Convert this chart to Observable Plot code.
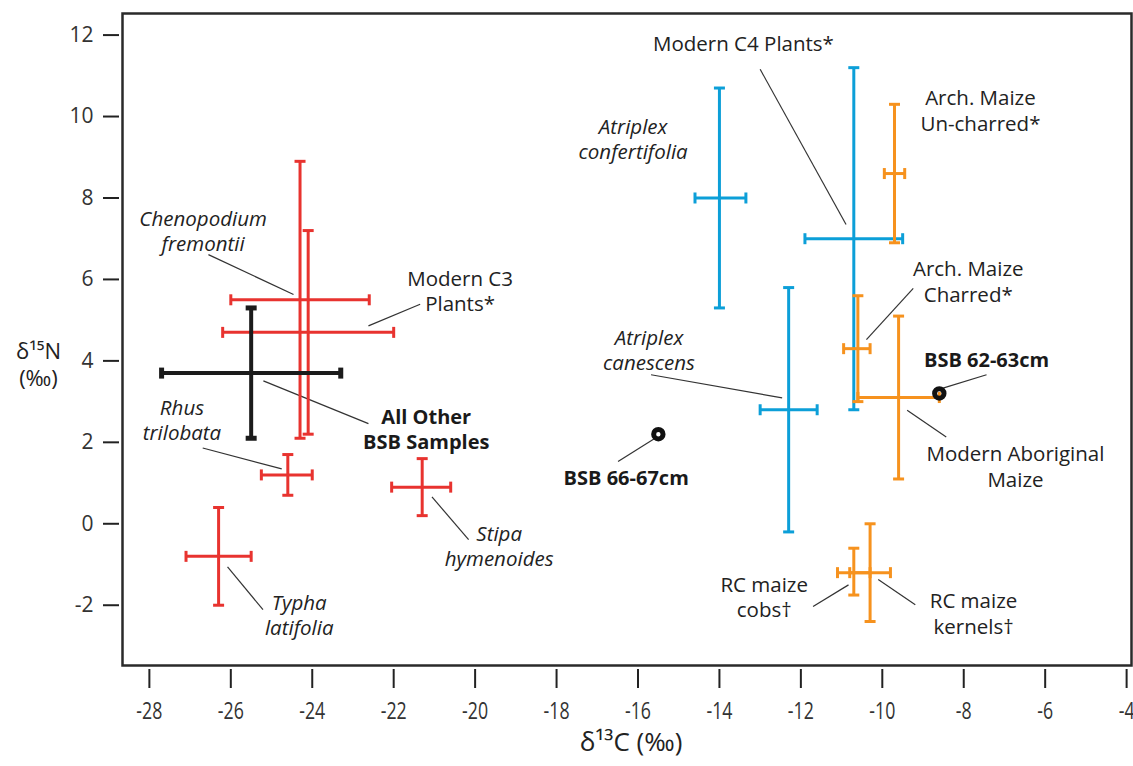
<!DOCTYPE html>
<html><head><meta charset="utf-8">
<script src="https://cdn.jsdelivr.net/npm/d3@7"></script>
<script src="https://cdn.jsdelivr.net/npm/@observablehq/plot@0.6"></script>
<style>
html,body{margin:0;padding:0;background:#fff;}
#chart svg{overflow:visible;display:block;}
</style></head><body><div id="chart"></div>
<script>
// ---- data ----
const names  = ["Chenopodium fremontii","Modern C3 Plants*","All Other BSB Samples","Rhus trilobata","Stipa hymenoides","Typha latifolia","Atriplex confertifolia","Modern C4 Plants*","Atriplex canescens","Arch. Maize Un-charred*","Arch. Maize Charred*","Modern Aboriginal Maize","RC maize cobs†","RC maize kernels†"];
const groups = ["C3","C3","BSB","C3","C3","C3","C4","C4","C4","Maize","Maize","Maize","Maize","Maize"];
const xMean  = [-24.3,-24.1,-25.5,-24.6,-21.3,-26.3,-14.0,-10.7,-12.3,-9.7,-10.6,-9.6,-10.7,-10.3];
const xLow   = [-26.0,-26.2,-27.7,-25.25,-22.05,-27.1,-14.6,-11.9,-13.0,-9.95,-10.95,-10.6,-11.1,-10.8];
const xHigh  = [-22.6,-22.0,-23.3,-24.0,-20.6,-25.5,-13.35,-9.5,-11.6,-9.45,-10.3,-8.6,-10.3,-9.8];
const yMean  = [5.5,4.7,3.7,1.2,0.9,-0.8,8.0,7.0,2.8,8.6,4.3,3.1,-1.2,-1.2];
const yLow   = [2.1,2.2,2.1,0.7,0.2,-2.0,5.3,2.8,-0.2,6.9,3.0,1.1,-1.75,-2.4];
const yHigh  = [8.9,7.2,5.3,1.7,1.6,0.4,10.7,11.2,5.8,10.3,5.6,5.1,-0.6,0.0];

const sampleNames = ["BSB 66-67cm","BSB 62-63cm"];
const sampleX = [-15.5,-8.6];
const sampleY = [2.2,3.2];

const xTicks = [-28,-26,-24,-22,-20,-18,-16,-14,-12,-10,-8,-6,-4];
const yTicks = [-2,0,2,4,6,8,10,12];

// annotation labels (data units) and styles
const labelText  = ["Chenopodium\nfremontii","Modern C3\nPlants*","All Other\nBSB Samples","Rhus\ntrilobata","Stipa\nhymenoides","Typha\nlatifolia","Atriplex\nconfertifolia","Modern C4 Plants*","Arch. Maize\nUn-charred*","Arch. Maize\nCharred*","BSB 62-63cm","Modern Aboriginal\nMaize","Atriplex\ncanescens","BSB 66-67cm","RC maize\ncobs†","RC maize\nkernels†"];
const labelX     = [-26.68,-20.37,-21.20,-27.20,-19.41,-24.32,-16.12,-13.41,-7.59,-7.89,-7.44,-6.73,-15.73,-16.29,-12.90,-7.76];
const labelY     = [7.20,5.73,2.34,2.57,-0.53,-2.23,9.47,11.80,10.16,5.96,4.04,1.42,4.29,1.14,-1.78,-2.19];
const labelStyle = ["italic","normal","bold","italic","italic","italic","italic","normal","normal","normal","bold","normal","italic","bold","normal","normal"];

// leader lines (data units)
const leadX1 = [-26.55,-22.62,-25.20,-26.69,-21.06,-26.08,-13.00,-9.24,-7.44,-9.39,-15.68,-16.49,-11.70,-10.10];
const leadY1 = [6.61,4.86,3.51,1.86,0.66,-1.06,11.16,5.78,3.66,2.79,3.66,1.53,-2.03,-1.37];
const leadX2 = [-24.46,-21.35,-22.62,-24.75,-20.16,-25.21,-10.89,-10.39,-8.51,-8.43,-12.46,-15.60,-10.83,-9.19];
const leadY2 = [5.63,5.39,2.46,1.35,-0.39,-2.11,7.35,4.52,3.33,2.13,3.09,2.09,-1.50,-1.99];

const colors = {C3:"#e8332f", BSB:"#1b1b1b", C4:"#0c9fd8", Maize:"#f6921e"};

// ---- build tables ----
const order = ["C3","BSB","C4","Maize"];
const rows = names.map((n,i)=>({name:n, g:groups[i], x:xMean[i], xl:xLow[i], xh:xHigh[i], y:yMean[i], yl:yLow[i], yh:yHigh[i]}))
  .sort((a,b)=>order.indexOf(a.g)-order.indexOf(b.g));
const samples = sampleNames.map((n,i)=>({name:n, x:sampleX[i], y:sampleY[i]}));
const labels = labelText.map((t,i)=>({t, x:labelX[i], y:labelY[i], s:labelStyle[i]}));
const leaders = leadX1.map((d,i)=>({x1:d, y1:leadY1[i], x2:leadX2[i], y2:leadY2[i]}));

const capH = {draw(ctx,size){const r=Math.sqrt(size/Math.PI); ctx.moveTo(-r,0); ctx.lineTo(r,0);}};
const capV = {draw(ctx,size){const r=Math.sqrt(size/Math.PI); ctx.moveTo(0,-r); ctx.lineTo(0,r);}};

const FONT = "'Open Sans', sans-serif";

const marks = [];
for (const g of order) {
  const data = rows.filter(d=>d.g===g);
  const col = colors[g];
  const w = g==="BSB"?4:3, cw = g==="BSB"?5:3;
  marks.push(
    Plot.link(data,{x1:"x",x2:"x",y1:"yl",y2:"yh",stroke:col,strokeWidth:w}),
    Plot.link(data,{x1:"xl",x2:"xh",y1:"y",y2:"y",stroke:col,strokeWidth:w}),
    Plot.dot(data,{x:"x",y:"yl",symbol:capH,r:5.5,stroke:col,fill:"none",strokeWidth:cw}),
    Plot.dot(data,{x:"x",y:"yh",symbol:capH,r:5.5,stroke:col,fill:"none",strokeWidth:cw}),
    Plot.dot(data,{x:"xl",y:"y",symbol:capV,r:5.5,stroke:col,fill:"none",strokeWidth:cw}),
    Plot.dot(data,{x:"xh",y:"y",symbol:capV,r:5.5,stroke:col,fill:"none",strokeWidth:cw})
  );
}

const chart = Plot.plot({
  width: 1133,
  height: 766,
  marginTop: 13,
  marginBottom: 101,
  marginLeft: 122,
  marginRight: 2,
  style: {fontFamily: FONT, background:"#fff"},
  x: {domain: [-28.66, -3.88]},
  y: {domain: [-3.48, 12.53]},
  marks: [
    Plot.frame({stroke:"#2a2a2a", strokeWidth:2.5}),
    Plot.axisX({ticks:xTicks, tickFormat:d=>String(d), tickSize:19, tickPadding:13, dy:4, fontSize:24, stroke:"#222", strokeWidth:2, color:"#333", label:null}),
    Plot.axisY({ticks:yTicks, tickFormat:d=>String(d), tickSize:16, tickPadding:10, dx:-3, fontSize:21, stroke:"#222", strokeWidth:2, color:"#333", label:null}),
    Plot.text(["δ¹⁵N\n(‰)"],{frameAnchor:"left", textAnchor:"middle", dx:-84, dy:24, fontSize:22, fill:"#222", lineHeight:1.24}),
    Plot.text(["δ¹³C (‰)"],{frameAnchor:"bottom", dx:4, dy:85, fontSize:26, fill:"#222", ariaLabel:"x-title"}),
    Plot.link(leaders,{x1:"x1",y1:"y1",x2:"x2",y2:"y2",stroke:"#333",strokeWidth:1.2}),
    ...marks,
    Plot.dot(samples,{x:"x",y:"y",r:4.7,stroke:"#111",strokeWidth:5,fill:"none"}),
    Plot.text(labels.filter(d=>d.s==="italic"),{x:"x",y:"y",text:"t",fontSize:20.5,fontStyle:"italic",fill:"#222",lineHeight:1.24}),
    Plot.text(labels.filter(d=>d.s==="normal"),{x:"x",y:"y",text:"t",fontSize:20.5,fill:"#222",lineHeight:1.24}),
    Plot.text(labels.filter(d=>d.s==="bold"),{x:"x",y:"y",text:"t",fontSize:20,fontWeight:"bold",fill:"#1a1a1a",lineHeight:1.24})
  ]
});
document.getElementById("chart").appendChild(chart);

// condensed look for the x-axis tick labels and x title, as in the reference
d3.select(chart).selectAll('g[aria-label="x-axis tick label"] text, g[aria-label="x-title"] text').each(function(){
  const t = this.getAttribute("transform") || "";
  this.setAttribute("transform", t + " scale(0.74,1)");
});
</script>
</body></html>
